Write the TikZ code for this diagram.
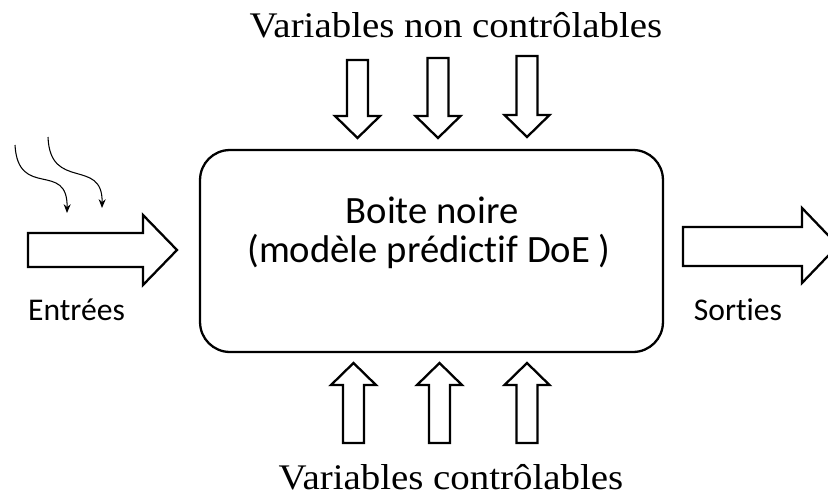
\documentclass[tikz,border=0pt]{standalone}
\usepackage{fontspec}
\setmainfont{Liberation Serif}[FakeStretch=1.08]
\newfontfamily\calib{Carlito}[Ligatures=NoCommon]
\usetikzlibrary{arrows.meta}
\newcommand\blkdown[3]{% center x, top y, tip y
  \draw[blockarrow] (#1-10.5,#2) -- (#1+10.5,#2) -- (#1+10.5,#3-22) -- (#1+22.5,#3-22) -- (#1,#3) -- (#1-22.5,#3-22) -- (#1-10.5,#3-22) -- cycle;}
\newcommand\blkup[3]{% center x, bottom y, tip y
  \draw[blockarrow] (#1-10.5,#2) -- (#1+10.5,#2) -- (#1+10.5,#3+22) -- (#1+22.5,#3+22) -- (#1,#3) -- (#1-22.5,#3+22) -- (#1-10.5,#3+22) -- cycle;}
\tikzset{
  blockarrow/.style={draw=black, line width=1.3pt, fill=white, line join=miter},
  boxstyle/.style={draw=black, line width=1.3pt, rounded corners=17pt, minimum width=9.26cm, minimum height=4.04cm, inner sep=0pt},
  serift/.style={font=\fontsize{20.5}{24}\selectfont, anchor=base, inner sep=0pt, text depth=0pt},
  sanst/.style={font=\calib\fontsize{18}{22}\selectfont, anchor=base, inner sep=0pt},
  boxt/.style={font=\calib\fontsize{22}{22.2}\selectfont, anchor=base, inner sep=0pt},
  wavy/.style={line width=0.6pt, -{Stealth[length=5pt,width=4pt]}}
}
\begin{document}
\begin{tikzpicture}[x=0.02cm,y=-0.02cm]
\useasboundingbox (0,0) rectangle (828,497);
\node[boxstyle] (box) at (431.5,251) {};
\node[boxt] (boxlabel) at (432,223) {Boite noire};
\node[boxt] (boxlabel2) at (429,262) {(modèle prédictif DoE )};
\node[serift] (top) at (456,37) {Variables non contrôlables};
\node[serift] (bottom) at (451,489) {Variables contrôlables};
\node[sanst] (in) at (76.5,320) {Entrées};
\node[sanst] (out) at (738,320) {Sorties};
% top arrows
\blkdown{357.5}{60}{138}
\blkdown{438}{58}{138}
\blkdown{527}{56}{137}
% bottom arrows
\blkup{353.5}{443}{363}
\blkup{439.5}{443}{363}
\blkup{527}{443}{363}
% left arrow
\draw[blockarrow] (28,233) -- (143,233) -- (143,215) -- (177,250) -- (143,285) -- (143,267) -- (28,267) -- cycle;
% right arrow
\draw[blockarrow] (683,227) -- (802,227) -- (802,208) -- (838,245.5) -- (802,283) -- (802,266) -- (683,266) -- cycle;
% wavy arrows
\coordinate (w1s) at (15,145); \coordinate (w1e) at (67,213);
\coordinate (w2s) at (48,137); \coordinate (w2e) at (102,208);
\draw[wavy] (w1s) .. controls (18,200) and (68,160) .. (w1e);
\draw[wavy] (w2s) .. controls (50,192) and (103,157) .. (w2e);
\end{tikzpicture}
\end{document}
